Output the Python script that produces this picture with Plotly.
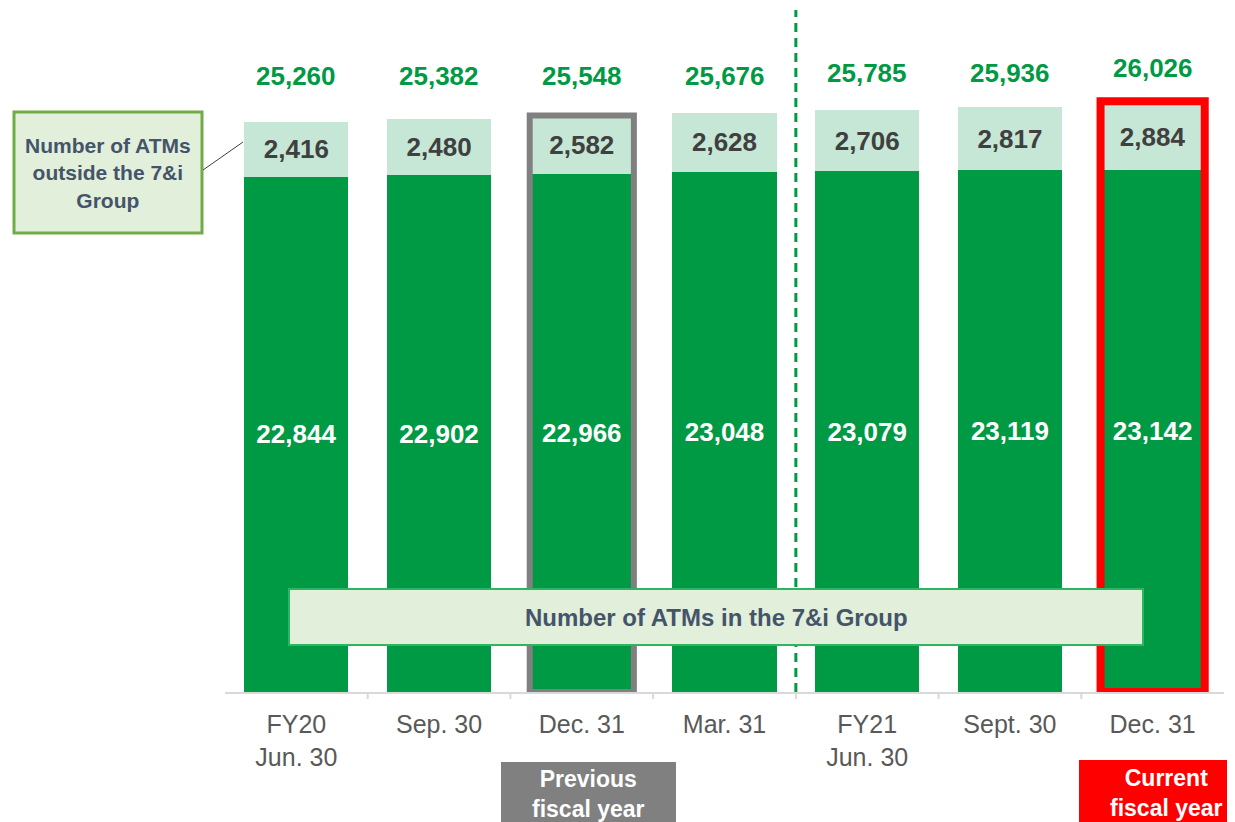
import plotly.graph_objects as go

categories = ["FY20<br>Jun. 30", "Sep. 30", "Dec. 31", "Mar. 31",
              "FY21<br>Jun. 30", "Sept. 30", "Dec. 31"]
in_group = [22844, 22902, 22966, 23048, 23079, 23119, 23142]
outside_group = [2416, 2480, 2582, 2628, 2706, 2817, 2884]
totals = [25260, 25382, 25548, 25676, 25785, 25936, 26026]

OFF = 8  # page body margin
W, H = 1235, 822
ML = 225 - OFF
PW = 999
MR = W - ML - PW
PLOT_BOTTOM = 692 - OFF
MT = 0
MB = H - PLOT_BOTTOM
PH = PLOT_BOTTOM - MT


def pxx(p):
    return (p - OFF - ML) / PW


def pxy(p):
    return (PLOT_BOTTOM - (p - OFF)) / PH


DARK = "#009944"
LIGHT = "#C6E7D5"
FONT = "Arial, Liberation Sans, sans-serif"
xs = list(range(len(categories)))
BW = 0.73

fig = go.Figure()
fig.add_bar(x=xs, y=in_group, width=BW, marker=dict(color=DARK, line=dict(width=0)),
            text=[f"{v:,}" for v in in_group], textposition="inside",
            insidetextanchor="middle",
            textfont=dict(color="white", size=26, family=FONT, weight="bold"),
            hoverinfo="skip")
fig.add_bar(x=xs, y=outside_group, width=BW, marker=dict(color=LIGHT, line=dict(width=0)),
            text=[f"{v:,}" for v in outside_group], textposition="inside",
            insidetextanchor="middle",
            textfont=dict(color="#404040", size=26, family=FONT, weight="bold"),
            hoverinfo="skip")

shapes = []
annotations = []

# totals
for i, t in enumerate(totals):
    yp = 68 if i == len(totals) - 1 else (76 if i < 4 else 73)
    annotations.append(dict(x=i, y=pxy(yp), xref="x", yref="paper", text=f"{t:,}",
                            showarrow=False, xanchor="center", yanchor="middle",
                            font=dict(color=DARK, size=26, family=FONT, weight="bold")))

# highlight boxes
shapes.append(dict(type="rect", xref="x", yref="y", x0=2 - BW / 2, x1=2 + BW / 2,
                   y0=0, y1=totals[2], line=dict(color="#808080", width=6)))
shapes.append(dict(type="rect", xref="x", yref="y", x0=6 - BW / 2, x1=6 + BW / 2,
                   y0=0, y1=totals[6] + 150, line=dict(color="#FF0000", width=8)))

# dashed separator
shapes.append(dict(type="line", xref="x", yref="paper", x0=3.5, x1=3.5,
                   y0=0, y1=pxy(10), line=dict(color=DARK, width=3, dash="9px,6px")))

# boundary ticks
for k in range(len(categories) - 1):
    shapes.append(dict(type="line", xref="x", yref="paper", x0=k + 0.5, x1=k + 0.5,
                       y0=0, y1=pxy(699), line=dict(color="#D9D9D9", width=2)))

# in-group label box
shapes.append(dict(type="rect", xref="paper", yref="paper", x0=pxx(289), x1=pxx(1143),
                   y0=pxy(645), y1=pxy(589), fillcolor="#E2EFDA",
                   line=dict(color="#2DB562", width=2)))
annotations.append(dict(x=pxx(716), y=pxy(617), xref="paper", yref="paper",
                        text="Number of ATMs in the 7&i Group", showarrow=False,
                        xanchor="center", yanchor="middle",
                        font=dict(color="#44546A", size=24, family=FONT, weight="bold")))

# outside-group label box
shapes.append(dict(type="rect", xref="paper", yref="paper", x0=pxx(14), x1=pxx(202),
                   y0=pxy(233), y1=pxy(112), fillcolor="#E2EFDA",
                   line=dict(color="#70AD47", width=3)))
annotations.append(dict(x=pxx(108), y=pxy(173), xref="paper", yref="paper",
                        text="Number of ATMs<br>outside the 7&i<br>Group", showarrow=False,
                        xanchor="center", yanchor="middle",
                        font=dict(color="#44546A", size=21, family=FONT, weight="bold")))
shapes.append(dict(type="line", xref="paper", yref="paper", x0=pxx(203), x1=pxx(243),
                   y0=pxy(170), y1=pxy(142), line=dict(color="#404040", width=1)))

# fiscal-year tags
shapes.append(dict(type="rect", xref="paper", yref="paper", x0=pxx(501), x1=pxx(676),
                   y0=pxy(830), y1=pxy(762), fillcolor="#808080", line=dict(width=0)))
annotations.append(dict(x=pxx(588), y=pxy(794), xref="paper", yref="paper",
                        text="Previous<br>fiscal year", showarrow=False,
                        xanchor="center", yanchor="middle",
                        font=dict(color="white", size=23, family=FONT, weight="bold")))
shapes.append(dict(type="rect", xref="paper", yref="paper", x0=pxx(1079), x1=pxx(1245),
                   y0=pxy(830), y1=pxy(760), fillcolor="#FF0000", line=dict(width=0)))
annotations.append(dict(x=pxx(1166), y=pxy(793), xref="paper", yref="paper",
                        text="Current<br>fiscal year", showarrow=False,
                        xanchor="center", yanchor="middle",
                        font=dict(color="white", size=23, family=FONT, weight="bold")))

fig.update_layout(
    width=W, height=H, margin=dict(l=ML, r=MR, t=MT, b=MB),
    barmode="stack", showlegend=False,
    paper_bgcolor="white", plot_bgcolor="white",
    shapes=shapes, annotations=annotations,
    xaxis=dict(range=[-0.5, 6.5], tickvals=xs, ticktext=categories,
               tickfont=dict(color="#595959", size=25, family=FONT),
               ticklabelstandoff=9,
               showline=True, linecolor="#D9D9D9", linewidth=2,
               showgrid=False, zeroline=False, ticks="", fixedrange=True),
    yaxis=dict(range=[0, PH / 0.022565], visible=False, showgrid=False,
               zeroline=False, fixedrange=True),
)
fig.write_html("out.html")
